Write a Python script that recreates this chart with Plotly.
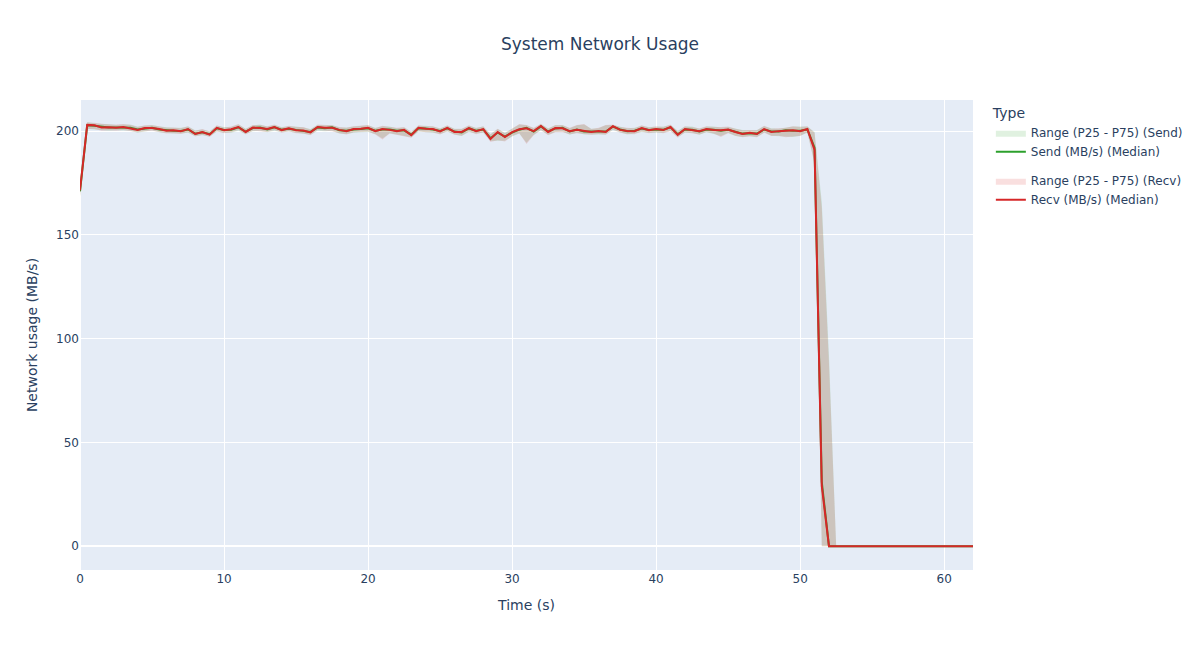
"""System network usage: median send/recv with P25-P75 bands."""
import plotly.graph_objects as go

# sampling grid, 0.5 s steps from 0 to 62 s
time_s = [i * 0.5 for i in range(125)]

# after the transfer stops (52.5 s .. 62 s) everything sits at zero
idle_tail = [0.0, 0.0, 0.0, 0.0, 0.0, 0.0, 0.0, 0.0, 0.0, 0.0,
             0.0, 0.0, 0.0, 0.0, 0.0, 0.0, 0.0, 0.0, 0.0, 0.0]

send_med = [
    171.0, 202.8, 202.6, 202.0, 201.7, 201.8, 201.8, 201.6, 200.8, 201.3,
    201.6, 200.8, 200.4, 200.2, 200.1, 200.8, 198.8, 199.4, 198.5, 201.4,
    200.6, 200.7, 201.8, 199.8, 201.5, 201.7, 200.8, 201.8, 200.7, 201.2,
    200.6, 200.1, 199.6, 201.8, 201.4, 201.8, 200.4, 200.2, 200.8, 201.0,
    201.4, 200.2, 200.8, 200.8, 200.2, 200.4, 198.3, 201.4, 201.3, 200.8,
    200.1, 201.4, 199.8, 199.4, 201.3, 200.2, 200.8, 196.6, 199.3, 197.4,
    199.3, 200.7, 201.6, 199.8, 202.3, 199.8, 201.3, 201.6, 199.8, 200.8,
    199.8, 199.8, 199.8, 199.8, 202.2, 200.8, 199.9, 200.2, 201.3, 200.6,
    200.8, 200.7, 201.8, 198.5, 200.8, 200.7, 199.8, 200.8, 200.7, 200.2,
    200.6, 199.8, 198.8, 199.0, 198.8, 200.8, 199.8, 199.8, 200.4, 200.2,
    200.2, 200.8, 192.0, 31.0, 0.0,
]
send_p25 = [
    169.0, 201.2, 200.8, 200.4, 200.2, 200.4, 200.3, 200.2, 199.2, 199.8,
    200.4, 199.4, 199.0, 198.8, 198.8, 199.2, 197.6, 198.0, 197.4, 199.8,
    199.2, 199.2, 200.2, 198.6, 200.0, 200.2, 199.4, 200.2, 199.4, 199.8,
    199.2, 198.6, 198.2, 200.2, 200.0, 200.2, 198.8, 198.6, 199.2, 199.4,
    199.6, 198.6, 196.4, 199.0, 198.4, 197.8, 197.0, 199.8, 199.6, 199.2,
    198.6, 199.8, 198.4, 197.6, 199.6, 198.8, 199.2, 195.2, 195.4, 195.4,
    197.4, 198.8, 194.4, 198.2, 200.4, 198.2, 199.6, 199.8, 198.2, 199.2,
    198.4, 198.4, 198.4, 198.4, 200.6, 199.4, 198.4, 198.8, 199.6, 199.2,
    199.2, 199.2, 200.2, 197.2, 199.2, 199.2, 198.2, 199.4, 198.6, 197.6,
    199.2, 197.6, 197.2, 197.6, 197.2, 199.4, 197.8, 197.6, 197.4, 197.2,
    197.8, 199.2, 185.0, 0.0, 0.0,
]
send_p75 = [
    174.5, 204.4, 203.8, 203.4, 203.4, 203.0, 203.2, 203.2, 202.2, 202.6,
    203.0, 202.2, 201.8, 201.6, 201.6, 202.2, 200.4, 200.8, 200.0, 202.6,
    202.0, 202.0, 203.2, 201.2, 202.8, 203.2, 202.2, 203.0, 202.0, 202.4,
    202.2, 201.8, 201.0, 203.0, 202.8, 203.0, 201.8, 201.8, 202.2, 202.4,
    202.8, 201.6, 202.4, 202.2, 201.4, 201.8, 199.8, 202.6, 202.6, 202.2,
    201.4, 202.6, 201.2, 201.0, 202.6, 201.6, 202.2, 198.6, 201.0, 199.2,
    201.2, 203.2, 202.8, 201.4, 203.4, 201.4, 202.8, 203.0, 201.4, 202.8,
    203.2, 201.2, 201.4, 202.8, 203.0, 202.2, 201.4, 201.6, 202.6, 202.0,
    202.2, 202.2, 203.0, 200.2, 202.2, 202.2, 201.2, 202.2, 202.2, 201.8,
    202.0, 201.4, 200.6, 200.4, 200.6, 202.4, 201.4, 201.2, 201.8, 202.2,
    202.2, 202.2, 199.6, 166.0, 92.0,
]

recv_med = [
    171.5, 203.0, 202.8, 201.8, 201.9, 201.6, 202.0, 201.4, 200.6, 201.5,
    201.5, 201.0, 200.2, 200.4, 199.9, 201.0, 198.6, 199.6, 198.3, 201.6,
    200.4, 200.9, 202.0, 199.6, 201.7, 201.5, 201.0, 202.0, 200.5, 201.4,
    200.4, 200.3, 199.4, 202.0, 201.6, 201.6, 200.6, 200.0, 201.0, 201.2,
    201.6, 200.0, 201.0, 200.6, 200.0, 200.6, 198.0, 201.6, 201.1, 201.0,
    199.9, 201.6, 199.6, 199.6, 201.5, 200.0, 201.0, 196.2, 199.6, 197.1,
    199.5, 200.9, 201.4, 200.0, 202.5, 199.6, 201.5, 201.4, 200.0, 200.6,
    200.0, 199.6, 200.0, 199.6, 202.4, 200.6, 200.1, 200.0, 201.5, 200.4,
    201.0, 200.5, 202.0, 198.2, 201.0, 200.5, 200.0, 201.0, 200.5, 200.4,
    200.8, 199.6, 198.6, 199.2, 198.6, 201.0, 199.6, 200.0, 200.2, 200.4,
    200.0, 201.0, 191.0, 29.0, 0.0,
]
recv_p25 = [
    168.5, 201.0, 201.0, 200.2, 200.4, 200.2, 200.5, 200.0, 199.4, 200.0,
    200.2, 199.6, 198.8, 199.0, 198.6, 199.4, 197.4, 198.2, 197.2, 200.0,
    199.0, 199.4, 200.5, 198.4, 200.2, 200.0, 199.6, 200.5, 199.2, 200.0,
    199.0, 198.8, 198.0, 200.5, 200.2, 200.0, 199.0, 198.4, 199.4, 199.6,
    199.8, 198.4, 196.0, 198.8, 198.2, 197.4, 196.8, 200.0, 199.5, 199.4,
    198.4, 200.0, 198.2, 197.8, 199.8, 198.5, 199.4, 194.8, 195.6, 195.0,
    197.6, 199.0, 193.8, 198.0, 200.6, 198.0, 199.4, 199.5, 198.5, 199.0,
    198.6, 198.2, 198.6, 198.2, 200.8, 199.2, 198.6, 198.5, 199.8, 199.0,
    199.5, 199.0, 200.0, 196.8, 199.4, 199.0, 198.4, 199.6, 198.8, 197.2,
    199.0, 197.8, 197.0, 197.4, 197.0, 199.2, 197.6, 197.8, 197.0, 197.4,
    197.6, 199.4, 184.0, 0.0, 0.0,
]
recv_p75 = [
    175.0, 204.2, 204.0, 203.6, 203.2, 203.2, 203.4, 203.0, 202.0, 202.8,
    202.8, 202.4, 201.6, 201.8, 201.4, 202.4, 200.2, 201.0, 199.8, 202.8,
    201.8, 202.2, 203.4, 201.0, 203.0, 203.0, 202.4, 203.2, 201.8, 202.6,
    202.0, 202.0, 200.8, 203.2, 203.0, 202.8, 202.0, 201.6, 202.4, 202.6,
    203.0, 201.4, 202.6, 202.0, 201.6, 202.0, 199.6, 202.8, 202.4, 202.4,
    201.2, 202.8, 201.0, 201.2, 202.8, 201.4, 202.4, 198.4, 201.2, 199.0,
    201.4, 203.4, 203.0, 201.6, 203.6, 201.2, 203.0, 202.8, 201.6, 203.0,
    203.4, 201.0, 201.6, 203.0, 203.2, 202.0, 201.6, 201.4, 202.8, 201.8,
    202.4, 202.0, 203.2, 200.0, 202.4, 202.0, 201.4, 202.4, 202.0, 202.0,
    202.2, 201.2, 200.4, 200.6, 200.4, 202.6, 201.2, 201.4, 201.6, 202.4,
    202.0, 202.4, 199.2, 163.0, 88.0,
]

SERIES = [
    ("send", "Send", "#2ca02c", "rgba(44,160,44,0.15)",
     send_p25, send_med, send_p75),
    ("recv", "Recv", "#d62728", "rgba(214,39,40,0.15)",
     recv_p25, recv_med, recv_p75),
]

fig = go.Figure()

for key, label, color, fill, lo, med, hi in SERIES:
    # lower bound first, upper bound fills down to it
    fig.add_trace(go.Scatter(
        x=time_s, y=lo + idle_tail,
        mode="lines", line=dict(width=0, color=color),
        legendgroup=key, showlegend=False, hoverinfo="skip",
    ))
    fig.add_trace(go.Scatter(
        x=time_s, y=hi + idle_tail,
        mode="lines", line=dict(width=0, color=color),
        fill="tonexty", fillcolor=fill,
        name=f"Range (P25 - P75) ({label})",
        legendgroup=key,
    ))
    fig.add_trace(go.Scatter(
        x=time_s, y=med + idle_tail,
        mode="lines", line=dict(width=2, color=color),
        name=f"{label} (MB/s) (Median)",
        legendgroup=key,
    ))

fig.update_layout(
    title=dict(text="System Network Usage", x=0.5),
    font=dict(family="DejaVu Sans"),
    width=1200,
    height=650,
    margin=dict(l=80, t=100, b=80),
    legend=dict(title_text="Type", traceorder="grouped"),
    xaxis=dict(title="Time (s)", range=[0, 62]),
    yaxis=dict(title="Network usage (MB/s)", range=[-11.5, 215]),
)

# drop the browser's default body margin so the figure sits at the page corner
fig.write_html(
    "out.html",
    config={"displayModeBar": False},
    post_script="document.body.style.margin = '0';",
)
